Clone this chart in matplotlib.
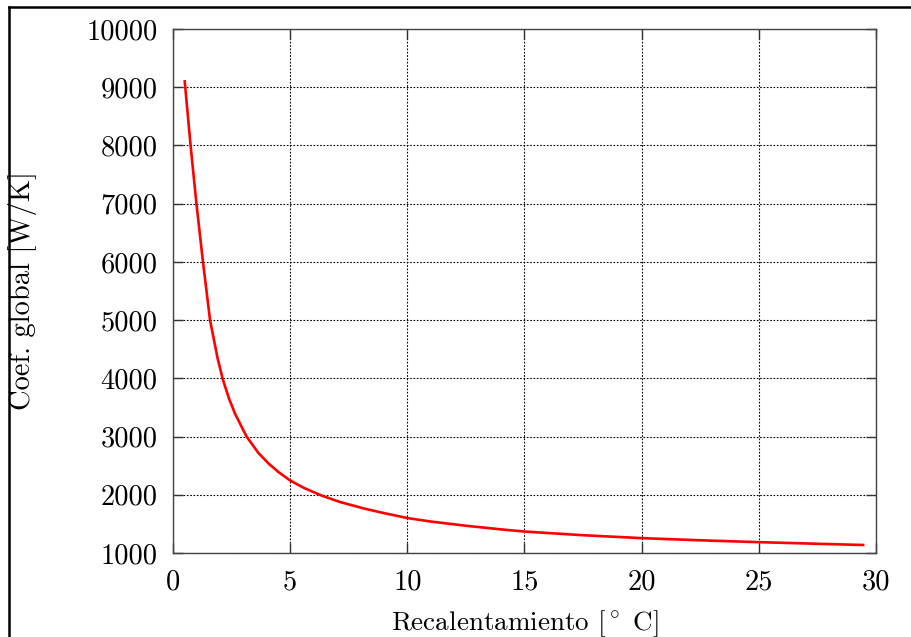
import numpy as np
import matplotlib
matplotlib.use("Agg")
import matplotlib.pyplot as plt
from matplotlib.lines import Line2D

# valores
recalentamiento = [0.5, 0.75, 1.0, 1.27, 1.58, 1.9, 2.12, 2.4, 2.65, 3.14, 3.64,
                   4.07, 4.5, 5.0, 5.6, 6.35, 7.13, 8.19, 9.0, 10.0, 11.0, 12.5,
                   14.0, 15.0, 17.5, 20.0, 22.5, 25.0, 27.5, 29.45]
coef_global = [9100, 8000, 7000, 6030, 5000, 4350, 3990, 3640, 3390, 3000, 2720,
               2540, 2390, 2245, 2115, 1985, 1875, 1760, 1685, 1600, 1540, 1468,
               1405, 1368, 1305, 1255, 1218, 1186, 1158, 1137]

xticks = [0, 5, 10, 15, 20, 25, 30]
yticks = [1000, 2000, 3000, 4000, 5000, 6000, 7000, 8000, 9000, 10000]

plt.rcParams['font.family'] = 'serif'
plt.rcParams['font.serif'] = ['cmr10', 'DejaVu Serif']
plt.rcParams['mathtext.fontset'] = 'cm'
plt.rcParams['axes.formatter.use_mathtext'] = True

fig = plt.figure(figsize=(9.12, 6.37), dpi=100)
ax = fig.add_axes([0.1897, 0.1319, 0.7708, 0.8226])

ax.plot(recalentamiento, coef_global, color='#ff0000', lw=1.9, zorder=3)

ax.set_xlim(0, 30)
ax.set_ylim(1000, 10000)
ax.set_xticks(xticks)
ax.set_yticks(yticks)
ax.set_xticklabels([str(t) for t in xticks])
ax.set_yticklabels([str(t) for t in yticks])
ax.grid(True, color='black', linestyle=(0, (1.5, 1.5)), linewidth=0.8)
ax.tick_params(direction='in', length=7, width=1, top=True, right=True,
               labelsize=20.5, pad=11, colors='#333333', labelcolor='black')
ax.tick_params(axis='x', pad=12)
for s in ax.spines.values():
    s.set_color('#444444')
    s.set_linewidth(1.0)

ax.set_xlabel(r'Recalentamiento [$^\circ$ C]', fontsize=19.5)
ax.xaxis.set_label_coords(0.5, -0.105)
ax.set_ylabel('Coef. global [W/K]', fontsize=20.5)
ax.yaxis.set_label_coords(-0.193, 0.5)

# marco exterior
fig.add_artist(Line2D([9 / 912, 1], [1 - 7 / 637, 1 - 7 / 637], transform=fig.transFigure, color='black', lw=1.8))
fig.add_artist(Line2D([9 / 912, 9 / 912], [0, 1 - 7 / 637], transform=fig.transFigure, color='black', lw=1.8))

fig.savefig('out.png', dpi=100)
